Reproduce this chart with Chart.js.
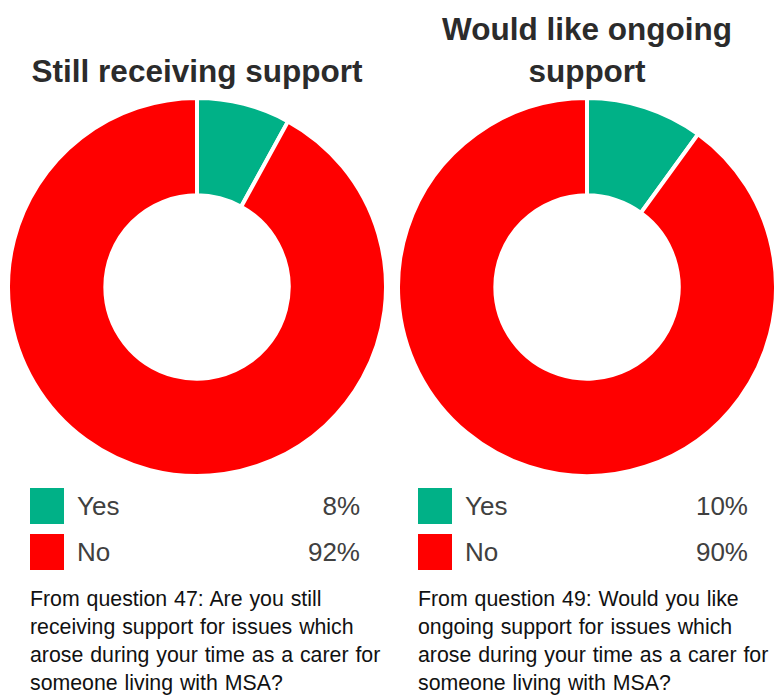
<!DOCTYPE html>
<html lang="en">
<head>
    <meta charset="UTF-8">
    <title>Support after caring</title>
    <script src="https://cdn.jsdelivr.net/npm/chart.js@4.4.0/dist/chart.umd.min.js"></script>
    <style>
        body {
            margin: 0;
            width: 776px;
            height: 697px;
            background: #fff;
            font-family: "Liberation Sans", Arial, sans-serif;
            position: relative;
            overflow: hidden;
        }

        .panel {
            position: absolute;
            top: 0;
            width: 390px;
            height: 697px;
        }

        .title {
            position: absolute;
            left: 0;
            width: 394px;
            text-align: center;
            font-weight: bold;
            font-size: 31.5px;
            line-height: 42px;
            color: #2b2b2b;
        }

        .chart_box {
            position: absolute;
            top: 96px;
            width: 382px;
            height: 382px;
        }

        .legend {
            position: absolute;
            top: 488px;
            width: 332px;
        }

        .legend-row {
            position: relative;
            height: 46px;
            font-size: 26px;
            color: #404040;
        }

        .swatch {
            position: absolute;
            left: 0;
            top: 0;
            width: 34px;
            height: 36px;
        }

        .legend-row .name {
            position: absolute;
            left: 47px;
            top: 3px;
        }

        .legend-row .pct {
            position: absolute;
            right: 2px;
            top: 3px;
        }

        .note {
            position: absolute;
            top: 585px;
            width: 380px;
            font-size: 21.3px;
            line-height: 28px;
            color: #111;
            white-space: nowrap;
            word-spacing: 1px;
        }
    </style>
</head>
<body>
<script>
    // answer categories and shares (%)
    const categories = ['Yes', 'No'];
    const stillReceiving = [8, 92];
    const wouldLike = [10, 90];
    const sliceColors = ['#00B187', '#FF0000'];
</script>

<div class="panel" style="left:0">
    <div class="title" style="top:50px">Still receiving support</div>
    <div class="chart_box" style="left:6px"><canvas id="chartStill" width="382" height="382"></canvas></div>
    <div class="legend" style="left:30px" id="legendStill"></div>
    <div class="note" style="left:30px">From question 47: Are you still<br>receiving support for issues which<br>arose during your time as a carer for<br>someone living with MSA?</div>
</div>

<div class="panel" style="left:390px">
    <div class="title" style="top:8px">Would like ongoing<br>support</div>
    <div class="chart_box" style="left:6px"><canvas id="chartWould" width="382" height="382"></canvas></div>
    <div class="legend" style="left:28px" id="legendWould"></div>
    <div class="note" style="left:28px">From question 49: Would you like<br>ongoing support for issues which<br>arose during your time as a carer for<br>someone living with MSA?</div>
</div>

<script>
    function makeDoughnut(id, values) {
        const ctx = document.getElementById(id).getContext('2d');
        return new Chart(ctx, {
            type: 'doughnut',
            data: {
                labels: categories,
                datasets: [{
                    data: values,
                    backgroundColor: sliceColors,
                    borderColor: '#ffffff',
                    borderWidth: 4
                }]
            },
            options: {
                responsive: false,
                animation: false,
                cutout: '48.5%',
                plugins: {
                    legend: { display: false },
                    tooltip: { enabled: false }
                }
            }
        });
    }

    // legend rows built from the same arrays
    function makeLegend(id, values) {
        const box = document.getElementById(id);
        categories.forEach((name, i) => {
            const row = document.createElement('div');
            row.className = 'legend-row';
            row.innerHTML = '<span class="swatch" style="background:' + sliceColors[i] + '"></span>' +
                '<span class="name">' + name + '</span>' +
                '<span class="pct">' + values[i] + '%</span>';
            box.appendChild(row);
        });
    }

    makeDoughnut('chartStill', stillReceiving);
    makeDoughnut('chartWould', wouldLike);
    makeLegend('legendStill', stillReceiving);
    makeLegend('legendWould', wouldLike);
</script>
</body>
</html>
